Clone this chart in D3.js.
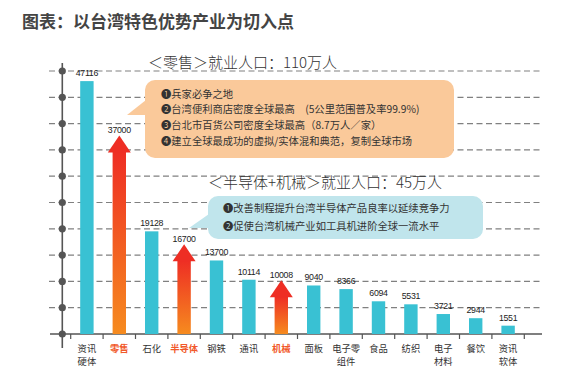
<!DOCTYPE html>
<html>
<head>
<meta charset="utf-8">
<script src="https://cdn.jsdelivr.net/npm/d3@7"></script>
<style>
  body { margin: 0; background: #fff; }
  svg { display: block; font-family: "Noto Sans CJK SC", "Noto Sans", sans-serif; }
</style>
</head>
<body>
<div class="chart"></div>
<script>
// 产业类别
const categories = ['资讯硬体', '零售', '石化', '半导体', '钢铁', '通讯', '机械', '面板',
  '电子零组件', '食品', '纺织', '电子材料', '餐饮', '资讯软体'];
// 轴标签（换行）
const labelLines = [['资讯', '硬体'], ['零售'], ['石化'], ['半导体'], ['钢铁'], ['通讯'], ['机械'],
  ['面板'], ['电子零', '组件'], ['食品'], ['纺织'], ['电子', '材料'], ['餐饮'], ['资讯', '软体']];
// 就业人口
const values = [47116, 37000, 19128, 16700, 13700, 10114, 10008, 9040, 8366, 6094, 5531, 3721, 2944, 1551];
// 重点产业（箭头）
const highlighted = ['零售', '半导体', '机械'];

const title = '图表：以台湾特色优势产业为切入点';
const retailHead = '＜零售＞就业人口：110万人';
const retailNotes = [
  '❶兵家必争之地',
  '❷台湾便利商店密度全球最高　(5公里范围普及率99.9%)',
  '❸台北市百货公司密度全球最高（8.7万人／家）',
  '❹建立全球最成功的虚拟/实体混和典范，复制全球市场'
];
const techHead = '＜半导体+机械＞就业人口：45万人';
const techNotes = [
  '❶改善制程提升台湾半导体产品良率以延续竞争力',
  '❷促使台湾机械产业如工具机进阶全球一流水平'
];

const W = 583, H = 388;
const svg = d3.select('.chart').append('svg').attr('width', W).attr('height', H);

const x = d3.scaleBand().domain(categories).range([70.7, 524.3]).padding(0);
const y = d3.scaleLinear().domain([0, 49000]).range([334, 71]);
const gridValues = d3.range(0, 49001, 4900);
const barW = 13.4;

// 渐层（箭头）
const grad = svg.append('defs').append('linearGradient')
  .attr('id', 'arrowGrad').attr('x1', 0).attr('y1', 0).attr('x2', 0).attr('y2', 1);
grad.append('stop').attr('offset', '0%').attr('stop-color', '#ee2e24');
grad.append('stop').attr('offset', '100%').attr('stop-color', '#f68b1f');

// 标题
svg.append('text').attr('x', 22).attr('y', 28)
  .attr('font-size', 17).attr('font-weight', 'bold').attr('fill', '#444')
  .text(title);

// 格线
svg.selectAll('.grid').data(gridValues.filter(d => d > 0)).join('line')
  .attr('class', 'grid')
  .attr('x1', 49).attr('x2', 542)
  .attr('y1', d => y(d)).attr('y2', d => y(d))
  .attr('stroke', '#808080').attr('stroke-width', 1.2)
  .attr('stroke-dasharray', '6,3.5');

// 纵轴
svg.append('line').attr('x1', 62.3).attr('x2', 62.3).attr('y1', 63).attr('y2', 348)
  .attr('stroke', '#555').attr('stroke-width', 1.6);
svg.selectAll('.dot').data(gridValues).join('circle')
  .attr('class', 'dot').attr('cx', 62.3).attr('cy', d => y(d)).attr('r', 3.6)
  .attr('fill', '#555');

// 横轴
svg.append('line').attr('x1', 50).attr('x2', 542).attr('y1', 334).attr('y2', 334)
  .attr('stroke', '#555').attr('stroke-width', 1.4);
const tickPos = categories.map(c => x(c)).concat([x(categories[categories.length - 1]) + x.bandwidth()]);
svg.selectAll('.tick').data(tickPos).join('line')
  .attr('class', 'tick').attr('x1', d => d).attr('x2', d => d)
  .attr('y1', 334).attr('y2', 339).attr('stroke', '#555').attr('stroke-width', 1.2);

const data = categories.map((c, i) => ({ name: c, value: values[i], lines: labelLines[i], hi: highlighted.includes(c) }));
const cx = d => x(d.name) + x.bandwidth() / 2;

// 一般长条
svg.selectAll('.bar').data(data.filter(d => !d.hi)).join('rect')
  .attr('class', 'bar')
  .attr('x', d => cx(d) - barW / 2).attr('width', barW)
  .attr('y', d => y(d.value)).attr('height', d => y(0) - y(d.value))
  .attr('fill', '#39c1d3');

// 箭头
const headH = 17, headW = 23;
const arrows = svg.selectAll('.arrow').data(data.filter(d => d.hi)).join('g').attr('class', 'arrow');
arrows.append('rect')
  .attr('x', d => cx(d) - barW / 2).attr('width', barW)
  .attr('y', d => y(d.value) + headH - 0.5).attr('height', d => y(0) - y(d.value) - headH + 0.5)
  .attr('fill', 'url(#arrowGrad)');
arrows.append('path')
  .attr('d', d => {
    const t = y(d.value), c = cx(d);
    return `M${c},${t} L${c + headW / 2},${t + headH} L${c - headW / 2},${t + headH} Z`;
  })
  .attr('fill', '#ee2e24');

// 数值标签
svg.selectAll('.val').data(data).join('text')
  .attr('class', 'val')
  .attr('x', cx).attr('y', d => y(d.value) - (d.hi ? 2 : 5))
  .attr('text-anchor', 'middle').attr('font-size', 8.8)
  .attr('font-family', '"Liberation Sans", Arial, sans-serif')
  .attr('letter-spacing', -0.3)
  .attr('fill', '#222').text(d => d.value);

// 类别标签（每行一个 text）
const labRows = data.flatMap(d => d.lines.map((t, i) => ({ t, i, c: cx(d), hi: d.hi })));
svg.selectAll('.lab').data(labRows).join('text')
  .attr('class', 'lab').attr('text-anchor', 'middle').attr('font-size', 9.3)
  .attr('x', d => d.c).attr('y', d => 351.5 + d.i * 13.6)
  .attr('fill', d => d.hi ? '#f1592a' : '#333')
  .attr('font-weight', d => d.hi ? 'bold' : 'normal')
  .text(d => d.t);

// 说明框
function callout(head, hx, hy, box, tip, fill, notes, tx, ty, lh) {
  svg.append('text').attr('x', hx).attr('y', hy).attr('font-size', 15)
    .attr('fill', '#333').attr('font-weight', 300).text(head);
  svg.append('rect').attr('x', box[0]).attr('y', box[1]).attr('width', box[2]).attr('height', box[3])
    .attr('rx', 10).attr('fill', fill);
  svg.append('path').attr('d', `M${box[0] + 1},${tip[1]} L${tip[0]},${tip[2]} L${box[0] + 1},${tip[2]} Z`)
    .attr('fill', fill);
  svg.selectAll(null).data(notes).join('text')
    .attr('x', tx).attr('y', (d, i) => ty + i * lh)
    .attr('font-size', 10.3).attr('fill', '#333').text(d => d);
}
callout(retailHead, 148, 68, [145, 80, 309, 78], [127, 100, 115], '#fac99a', retailNotes, 161, 97.5, 15.7);
callout(techHead, 208, 188, [208, 196, 275, 43], [189, 214, 228], '#c0e5ec', techNotes, 223, 212, 17.5);
</script>
</body>
</html>
